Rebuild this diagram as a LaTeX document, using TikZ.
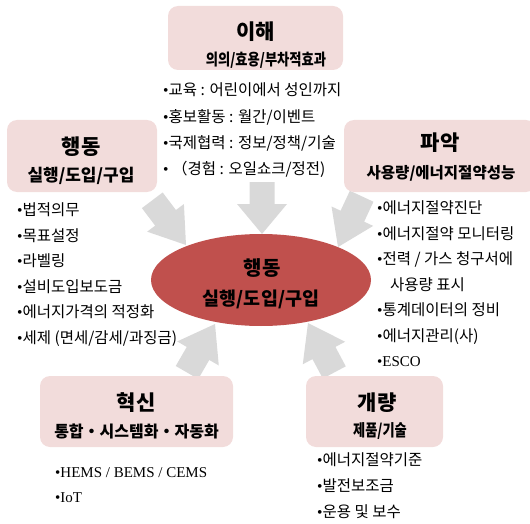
\documentclass[tikz,border=0pt]{standalone}
\usepackage{fontspec}
\usetikzlibrary{shapes.geometric}
\newfontfamily\kr{Noto Sans CJK KR}
\newfontfamily\krt{Noto Sans CJK KR}
\newfontfamily\lat{Liberation Serif}
\newcommand{\bul}{{\lat •}}
\definecolor{boxpink}{HTML}{F2DCDB}
\definecolor{arrowgray}{HTML}{D9D9D9}
\definecolor{ellred}{HTML}{C0504D}
\newcommand{\blkarrow}[7]{%
  \begin{scope}[shift={(#1,#2)}, rotate=#3]
    \fill[arrowgray] (0,0) -- (-#4,#5) -- (-#4,#6) -- (-#4-#7,#6) -- (-#4-#7,-#6) -- (-#4,-#6) -- (-#4,-#5) -- cycle;
  \end{scope}}
\tikzset{
  pinkbox/.style={fill=boxpink, rounded corners=10pt, inner sep=0pt, draw=none},
  ttl/.style={anchor=base, inner sep=0pt, font=\krt\bfseries\fontsize{21}{21}\selectfont},
  subt/.style={anchor=base, inner sep=0pt, font=\krt\bfseries\fontsize{#1}{#1}\selectfont},
  item/.style={anchor=base west, inner sep=0pt, font=\kr\fontsize{15.5}{15.5}\selectfont},
  latitem/.style={anchor=base west, inner sep=0pt, font=\lat\fontsize{15}{15}\selectfont},
}
\begin{document}
\begin{tikzpicture}[x=1pt,y=-1pt]
\useasboundingbox (0,0) rectangle (530,524);
\clip (0,0) rectangle (530,524);
% arrows
\blkarrow{262}{234}{-90}{30}{25}{12.5}{22}
\blkarrow{186}{245}{-53}{34}{23}{13}{22}
\blkarrow{338}{247}{-115}{34}{23}{13}{22}
\blkarrow{215}{324}{60}{34}{24}{13}{22}
\blkarrow{308}{323}{118}{34}{24}{13}{22}
% boxes
\node[pinkbox, minimum width=175pt, minimum height=64pt] (topbox) at (255.5,38) {};
\node[pinkbox, minimum width=150pt, minimum height=72pt] (leftbox) at (82,156) {};
\node[pinkbox, minimum width=192pt, minimum height=72pt] (rightbox) at (440,156) {};
\node[pinkbox, minimum width=193pt, minimum height=71pt] (blbox) at (136.5,411.5) {};
\node[pinkbox, minimum width=137pt, minimum height=71pt] (brbox) at (374.5,411.5) {};
% ellipse
\node[ellipse, fill=ellred, minimum width=220pt, minimum height=92pt, inner sep=0pt] (ell) at (261,280) {};
\node[subt=20] (ellt) at (262,275.9) {행동};
\node[subt=18.5] (ells) at (261,305.3) {실행/도입/구입};
% titles
\node[ttl] (topt) at (255.5,39.8) {이해};
\node[subt=16] (tops) at (266,66) {\scalebox{0.83}[1]{의의/효용/부차적효과}};
\node[ttl] (leftt) at (81,154.8) {행동};
\node[subt=17] (lefts) at (81,181.3) {실행/도입/구입};
\node[ttl] (rightt) at (440,150.8) {파악};
\node[subt=15.5] (rights) at (441,178.7) {사용량/에너지절약성능};
\node[ttl] (blt) at (136,410.8) {혁신};
\node[subt=16] (bls) at (136.5,437.9) {통합・시스템화・자동화};
\node[ttl] (brt) at (377,410.8) {개량};
\node[subt=16.5] (brs) at (380,436.5) {\scalebox{0.8}[1]{제품/기술}};
% top list
\node[item] (a1) at (163,95.7) {\bul 교육 : 어린이에서 성인까지};
\node[item] (a2) at (163,122.7) {\bul 홍보활동 : 월간/이벤트};
\node[item] (a3) at (163,148.7) {\bul 국제협력 : 정보/정책/기술};
\node[item] (a4) at (163,174.7) {\bul\ （경험 : 오일쇼크/정전)};
% left list
\node[item] (b1) at (17,215.7) {\bul 법적의무};
\node[item] (b2) at (17,241.2) {\bul 목표설정};
\node[item] (b3) at (17,266.7) {\bul 라벨링};
\node[item] (b4) at (17,292.2) {\bul 설비도입보도금};
\node[item] (b5) at (17,317.7) {\bul 에너지가격의 적정화};
\node[item] (b6) at (17,343.2) {\bul 세제 (면세/감세/과징금)};
% right list
\node[item] (c1) at (377,213.7) {\bul 에너지절약진단};
\node[item] (c2) at (377,239.2) {\bul 에너지절약 모니터링};
\node[item] (c3) at (377,264.7) {\bul 전력 / 가스 청구서에};
\node[item] (c4) at (390,290.2) {사용량 표시};
\node[item] (c5) at (377,315.7) {\bul 통계데이터의 정비};
\node[item] (c6) at (377,341.2) {\bul 에너지관리(사)};
\node[latitem] (c7) at (377,366.5) {•ESCO};
% bottom-left list
\node[latitem] (d1) at (55,477) {•HEMS / BEMS / CEMS};
\node[latitem] (d2) at (55,502) {•IoT};
% bottom-right list
\node[item] (e1) at (317,465.7) {\bul 에너지절약기준};
\node[item] (e2) at (317,491.7) {\bul 발전보조금};
\node[item] (e3) at (317,517.7) {\bul 운용 및 보수};
\end{tikzpicture}
\end{document}
